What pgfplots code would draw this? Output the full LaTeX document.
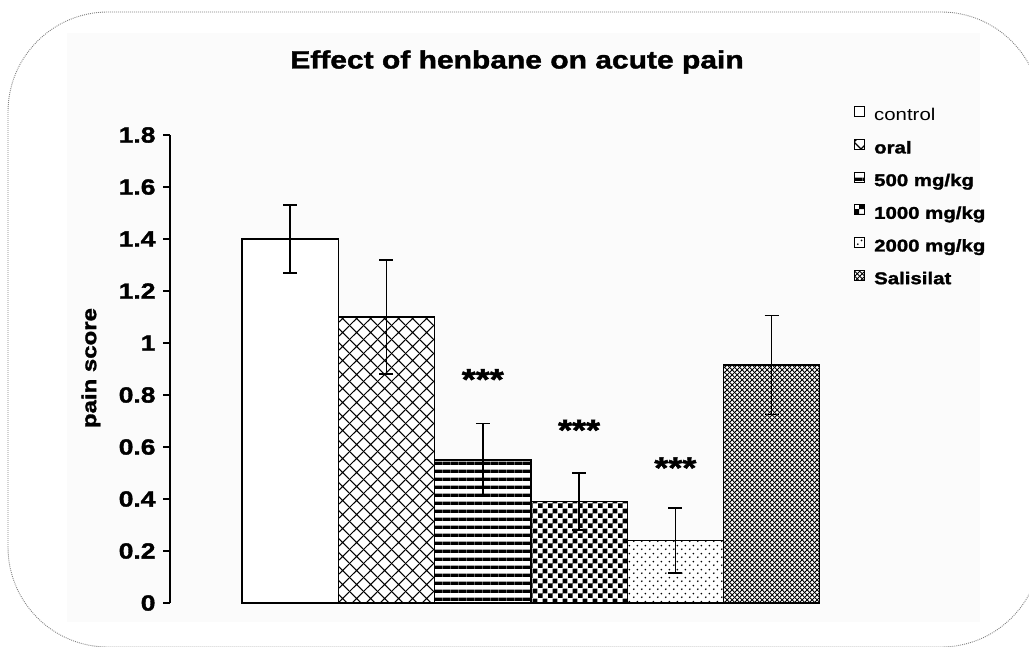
\documentclass[border=0pt]{standalone}
\usepackage{fontspec}
\setmainfont{Liberation Sans}[FakeStretch=1.2, BoldFeatures={FakeBold=1.6}]
\usepackage{pgfplots}
\pgfplotsset{compat=1.18}
\usetikzlibrary{patterns}

\pgfdeclarepatternformonly{mydiag}{\pgfqpoint{0pt}{0pt}}{\pgfqpoint{14pt}{14pt}}{\pgfqpoint{14pt}{14pt}}{%
  \pgfsetlinewidth{1.1pt}%
  \pgfpathmoveto{\pgfqpoint{-1pt}{-1pt}}\pgfpathlineto{\pgfqpoint{15pt}{15pt}}%
  \pgfpathmoveto{\pgfqpoint{-1pt}{15pt}}\pgfpathlineto{\pgfqpoint{15pt}{-1pt}}%
  \pgfusepath{stroke}}
\pgfdeclarepatternformonly{myhlines}{\pgfqpoint{0pt}{0pt}}{\pgfqpoint{7.5pt}{7.5pt}}{\pgfqpoint{7.5pt}{7.5pt}}{%
  \pgfpathrectangle{\pgfqpoint{-0.5pt}{0pt}}{\pgfqpoint{8.5pt}{3.5pt}}%
  \pgfusepath{fill}}
\pgfdeclarepatternformonly{mychecker}{\pgfqpoint{0pt}{0pt}}{\pgfqpoint{9.6pt}{9.6pt}}{\pgfqpoint{9.6pt}{9.6pt}}{%
  \pgfpathrectangle{\pgfqpoint{0pt}{0pt}}{\pgfqpoint{4.8pt}{4.8pt}}%
  \pgfpathrectangle{\pgfqpoint{4.8pt}{4.8pt}}{\pgfqpoint{4.8pt}{4.8pt}}%
  \pgfusepath{fill}}
\pgfdeclarepatternformonly{mydots}{\pgfqpoint{0pt}{0pt}}{\pgfqpoint{8pt}{8pt}}{\pgfqpoint{8pt}{8pt}}{%
  \pgfpathcircle{\pgfqpoint{2pt}{2pt}}{1.05pt}%
  \pgfpathcircle{\pgfqpoint{6pt}{6pt}}{1.05pt}%
  \pgfusepath{fill}}
\pgfdeclarepatternformonly{myfine}{\pgfqpoint{0pt}{0pt}}{\pgfqpoint{5pt}{5pt}}{\pgfqpoint{5pt}{5pt}}{%
  \pgfsetlinewidth{1pt}%
  \pgfpathmoveto{\pgfqpoint{-1pt}{-1pt}}\pgfpathlineto{\pgfqpoint{6pt}{6pt}}%
  \pgfpathmoveto{\pgfqpoint{-1pt}{6pt}}\pgfpathlineto{\pgfqpoint{6pt}{-1pt}}%
  \pgfusepath{stroke}}
\newcommand{\legfont}{\fontsize{17}{17}\selectfont}

\begin{document}
\begin{tikzpicture}
\useasboundingbox (0pt,0pt) rectangle (1029pt,646pt);
\begin{scope}
\clip (0pt,0pt) rectangle (1029pt,646pt);
\fill[white] (0pt,0pt) rectangle (1029pt,646pt);
\fill[color={rgb,255:red,251;green,251;blue,251}] (67pt,24pt) rectangle (980pt,613pt);
\draw[gray, line width=0.9pt, dash pattern=on 0.9pt off 1.1pt, rounded corners=100pt] (8pt,-1pt) rectangle (1041pt,634pt);
\end{scope}
\node[font=\bfseries\fontsize{25}{25}\selectfont] at (517pt,584pt) {Effect of henbane on acute pain};
\begin{axis}[
  at={(170pt,43pt)}, anchor=south west,
  scale only axis, width=649.8pt, height=468pt,
  xmin=-1.248, xmax=5.5, ymin=0, ymax=1.8,
  axis y line*=left, axis x line=none,
  ytick={0,0.2,...,1.8},
  yticklabel={\pgfmathprintnumber[fixed,precision=1]{\tick}},
  /pgf/number format/assume math mode=true,
  yticklabel style={font=\bfseries\fontsize{22}{22}\selectfont, xshift=-4pt},
  tick align=outside, major tick length=7pt,
  y axis line style={line width=1.2pt},
  ytick style={line width=1.2pt, black},
  ylabel={pain score},
  ylabel style={font=\bfseries\fontsize{20}{20}\selectfont, at={(axis description cs:-0.1216,0.502)}, anchor=center},
  ybar, bar width=96.3pt,
  error bars/y dir=both, error bars/y explicit,
  error bars/error bar style={line width=1.6pt, black},
  error bars/error mark options={rotate=90, line width=1.6pt, mark size=7pt, black},
  legend style={at={(axis description cs:1.0526,1.062)}, anchor=north west, draw=none, fill=none, inner sep=0pt,
    row sep=15.2pt,
    /tikz/every odd column/.append style={column sep=9pt},
    nodes={inner sep=0pt, text height=11pt, text depth=3pt}, font=\legfont},
  legend cell align=left,
  legend image code/.code={\draw[#1, line width=1pt] (0pt,0pt) rectangle (10pt,10pt);},
  clip=false,
]
\addplot[bar shift=0pt, draw=black, line width=1.3pt, fill=white] coordinates {(0,1.40) +- (0,0.13)};
\addplot[bar shift=0pt, draw=black, line width=1.3pt, fill=white, postaction={pattern=mydiag}] coordinates {(1,1.10) +- (0,0.22)};
\addplot[bar shift=0pt, draw=black, line width=1.3pt, fill=white, postaction={pattern=myhlines}] coordinates {(2,0.55) +- (0,0.14)};
\addplot[bar shift=0pt, draw=black, line width=1.3pt, fill=white, postaction={pattern=mychecker}] coordinates {(3,0.39) +- (0,0.11)};
\addplot[bar shift=0pt, draw=black, line width=1.3pt, fill=white, postaction={pattern=mydots}] coordinates {(4,0.24) +- (0,0.125)};
\addplot[bar shift=0pt, draw=black, line width=1.3pt, fill=white, postaction={pattern=myfine}] coordinates {(5,0.915) +- (0,0.19)};
\legend{{\legfont control}, {\legfont\bfseries oral}, {\legfont\bfseries 500 mg/kg}, {\legfont\bfseries 1000 mg/kg}, {\legfont\bfseries 2000 mg/kg}, {\legfont\bfseries Salisilat}}
\node[font=\bfseries\fontsize{30}{30}\selectfont] at (axis cs:2,0.86) {***};
\node[font=\bfseries\fontsize{30}{30}\selectfont] at (axis cs:3,0.665) {***};
\node[font=\bfseries\fontsize{30}{30}\selectfont] at (axis cs:4,0.52) {***};
\end{axis}
\end{tikzpicture}
\end{document}
